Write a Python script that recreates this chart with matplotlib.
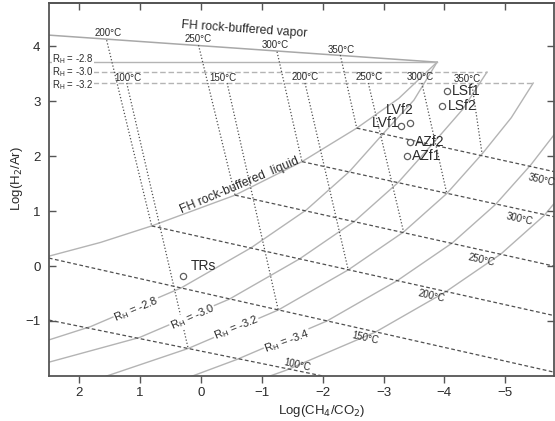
import matplotlib
matplotlib.use('Agg')
import matplotlib.pyplot as plt

plt.rcParams['font.family'] = ['Liberation Sans', 'DejaVu Sans']

# ---- values ----
x_ticks = [2, 1, 0, -1, -2, -3, -4, -5]
y_ticks = [-1, 0, 1, 2, 3, 4]

# FH rock-buffered vapor line and its temperature points
fh_vap_x = [2.6, -3.88]
fh_vap_y = [4.21, 3.71]
fh_t = ['200°C', '250°C', '300°C', '350°C']
fh_vap_tx = [1.55, 0.04, -1.25, -2.29]
fh_vap_ty = [4.11, 4.02, 3.90, 3.84]
fh_lab_x = [1.52, 0.04, -1.22, -2.31]
fh_lab_y = [4.24, 4.13, 4.03, 3.93]

# FH rock-buffered liquid curve, and its 200-350 C nodes
fh_liq_x = [2.6, 1.65, 0.81, -0.56, -1.66, -2.56, -3.25, -3.88]
fh_liq_y = [0.15, 0.43, 0.73, 1.29, 1.90, 2.51, 3.05, 3.71]
fh_liq_tx = [0.81, -0.56, -1.66, -2.56]
fh_liq_ty = [0.73, 1.29, 1.90, 2.51]

# vapour R_H lines (horizontal) at the top
rh_vap = ['-2.8', '-3.0', '-3.2']
rh_vap_y = [3.71, 3.53, 3.33]
rh_vap_lab_y = [3.77, 3.53, 3.29]
rh_vap_end = [-3.88, -4.70, -5.46]
rh_vap_style = ['-', (0, (4, 2)), (0, (4, 2))]

# temperature points on the R_H = -3.2 vapour line
t_all = ['100°C', '150°C', '200°C', '250°C', '300°C', '350°C']
v32_x = [1.22, -0.43, -1.71, -2.75, -3.63, -4.45]
v32_lab_x = [1.20, -0.36, -1.72, -2.77, -3.60, -4.38]
v32_lab_y = [3.42, 3.43, 3.44, 3.44, 3.44, 3.40]

# liquid R_H curves (nodes at 100..350 C plus ends)
liq_28_x = [2.6, 1.81, 0.33, -0.82, -1.73, -2.44, -3.02, -3.50, -3.88]
liq_28_y = [-1.38, -1.10, -0.40, 0.33, 1.02, 1.72, 2.44, 3.02, 3.71]
liq_30_x = [2.6, 1.01, -0.47, -1.62, -2.53, -3.24, -3.82, -4.30, -4.70]
liq_30_y = [-1.78, -1.30, -0.60, 0.13, 0.82, 1.52, 2.24, 2.85, 3.53]
liq_32_x = [1.6, 0.21, -1.27, -2.42, -3.33, -4.04, -4.62, -5.10, -5.46]
liq_32_y = [-2.02, -1.50, -0.80, -0.07, 0.62, 1.32, 2.04, 2.70, 3.33]
liq_34_x = [0.21, -0.59, -2.07, -3.22, -4.13, -4.84, -5.42, -5.95]
liq_34_y = [-2.03, -1.70, -1.00, -0.27, 0.42, 1.12, 1.84, 2.60]
liq_36_x = [-1.06, -1.39, -2.87, -4.02, -4.93, -5.64, -6.0]
liq_36_y = [-2.03, -1.90, -1.20, -0.47, 0.22, 0.92, 1.40]

# liquid isotherms (dashed)
iso_x0 = [2.6, 2.6, 0.81, -0.56, -1.66, -2.56]
iso_y0 = [-0.96, 0.17, 0.73, 1.29, 1.90, 2.51]
iso_x1 = [-2.0, -6.0, -6.0, -6.0, -6.0, -6.0]
iso_y1 = [-2.0, -1.98, -0.95, -0.05, 0.85, 1.67]
iso_lab_x = [-1.58, -2.70, -3.79, -4.61, -5.23, -5.59]
iso_lab_y = [-1.80, -1.31, -0.55, 0.11, 0.85, 1.56]

# liquid R_H labels at the bottom
rh_liq = ['-2.8', '-3.0', '-3.2', '-3.4']
rh_liq_x = [1.06, 0.14, -0.58, -1.42]
rh_liq_y = [-0.78, -0.93, -1.13, -1.38]
rh_liq_rot = [23, 24, 22, 20]

# samples
samp = ['LSf1', 'LSf2', 'LVf2', 'LVf1', 'AZf2', 'AZf1', 'TRs']
samp_x = [-4.04, -3.96, -3.43, -3.29, -3.44, -3.38, 0.29]
samp_y = [3.19, 2.91, 2.61, 2.55, 2.25, 2.00, -0.19]
samp_lx = [-4.13, -4.05, -3.27, -3.04, -3.52, -3.46, -0.04]
samp_ly = [3.19, 2.91, 2.84, 2.61, 2.25, 2.00, 0.0]
samp_ha = ['left', 'left', 'center', 'center', 'left', 'left', 'center']

# ---- drawing ----
fig = plt.figure(figsize=(5.55, 4.21), dpi=100)
ax = fig.add_axes([0.088, 0.107, 0.910, 0.885])

solid = dict(color='#b4b4b4', lw=1.0, zorder=1)
dash = dict(color='#505050', lw=0.9, ls=(0, (3, 2)), zorder=2)
dot = dict(color='#505050', lw=0.9, ls=(0, (1, 1.6)), zorder=2)
txt = '#2a2a2a'

ax.plot(fh_vap_x, fh_vap_y, color='#a8a8a8', lw=1.1, zorder=1)
ax.plot(fh_liq_x, fh_liq_y, **solid)
for xs, ys in [(liq_28_x, liq_28_y), (liq_30_x, liq_30_y), (liq_32_x, liq_32_y),
               (liq_34_x, liq_34_y), (liq_36_x, liq_36_y)]:
    ax.plot(xs, ys, **solid)

for yv, xe, st in zip(rh_vap_y, rh_vap_end, rh_vap_style):
    ax.plot([2.6, xe], [yv, yv], color='#b4b4b4', lw=1.0, ls=st, zorder=1)

for x0, y0, x1, y1 in zip(iso_x0, iso_y0, iso_x1, iso_y1):
    ax.plot([x0, x1], [y0, y1], **dash)

# vapour -> liquid tie lines
for x0, y0, x1, y1 in zip(fh_vap_tx, fh_vap_ty, fh_liq_tx, fh_liq_ty):
    ax.plot([x0, x1], [y0, y1], **dot)
for i, x0 in enumerate(v32_x):
    ax.plot([x0, liq_32_x[i + 1]], [rh_vap_y[2], liq_32_y[i + 1]], **dot)

# temperature labels
for s, x, y in zip(fh_t, fh_lab_x, fh_lab_y):
    ax.text(x, y, s, fontsize=7, color=txt, ha='center', va='center')
for s, x, y in zip(t_all, v32_lab_x, v32_lab_y):
    ax.text(x, y, s, fontsize=7, color=txt, ha='center', va='center')
for s, x, y in zip(t_all, iso_lab_x, iso_lab_y):
    ax.text(x, y, s, fontsize=7, color=txt, ha='center', va='center',
            rotation=-12.5, rotation_mode='anchor')

box = dict(facecolor='white', edgecolor='none', pad=0.0)
for s, y in zip(rh_vap, rh_vap_lab_y):
    ax.text(2.44, y, 'R$_\\mathregular{H}$ = ' + s, fontsize=6.9, color=txt,
            ha='left', va='center', bbox=box, zorder=3)
box2 = dict(facecolor='white', edgecolor='none', pad=0.3)
for s, x, y, r in zip(rh_liq, rh_liq_x, rh_liq_y, rh_liq_rot):
    ax.text(x, y, 'R$_\\mathregular{H}$ = ' + s, fontsize=8, color=txt,
            ha='center', va='center', rotation=r, rotation_mode='anchor',
            bbox=box2, zorder=3)

ax.text(-0.71, 4.31, 'FH rock-buffered vapor', fontsize=8.8, color=txt,
        ha='center', va='center', rotation=-4, rotation_mode='anchor')
ax.text(-0.63, 1.47, 'FH rock-buffered  liquid', fontsize=8.8, color=txt,
        ha='center', va='center', rotation=23, rotation_mode='anchor')

ax.plot(samp_x, samp_y, 'o', ms=4.5, mfc='white', mec='#606060', mew=0.9,
        ls='none', zorder=4)
for s, x, y, ha in zip(samp, samp_lx, samp_ly, samp_ha):
    ax.text(x, y, s, fontsize=10, color=txt, ha=ha, va='center', zorder=5)

ax.set_xlim(2.5, -5.8)
ax.set_ylim(-2.0, 4.78)
ax.set_xticks(x_ticks)
ax.set_yticks(y_ticks)
ax.tick_params(axis='y', direction='in', left=True, right=True, length=5,
               width=1.0, color='#555555', labelsize=9.5, pad=6, labelcolor=txt)
ax.tick_params(axis='x', direction='out', length=5, width=1.0, color='#555555',
               labelsize=9.5, pad=3, labelcolor=txt)
top = ax.secondary_xaxis('top')
top.set_xticks(x_ticks)
top.tick_params(direction='in', length=5, width=1.0, color='#555555',
                labeltop=False)
for sp in list(ax.spines.values()) + list(top.spines.values()):
    sp.set_color('#555555')
    sp.set_linewidth(1.3)

ax.set_xlabel('Log(CH$_4$/CO$_2$)', fontsize=9.5, color=txt)
ax.xaxis.set_label_coords(0.54, -0.072)
ax.set_ylabel('Log(H$_2$/Ar)', fontsize=9.5, color=txt)
ax.yaxis.set_label_coords(-0.048, 0.53)

fig.savefig('out.png', dpi=100)
